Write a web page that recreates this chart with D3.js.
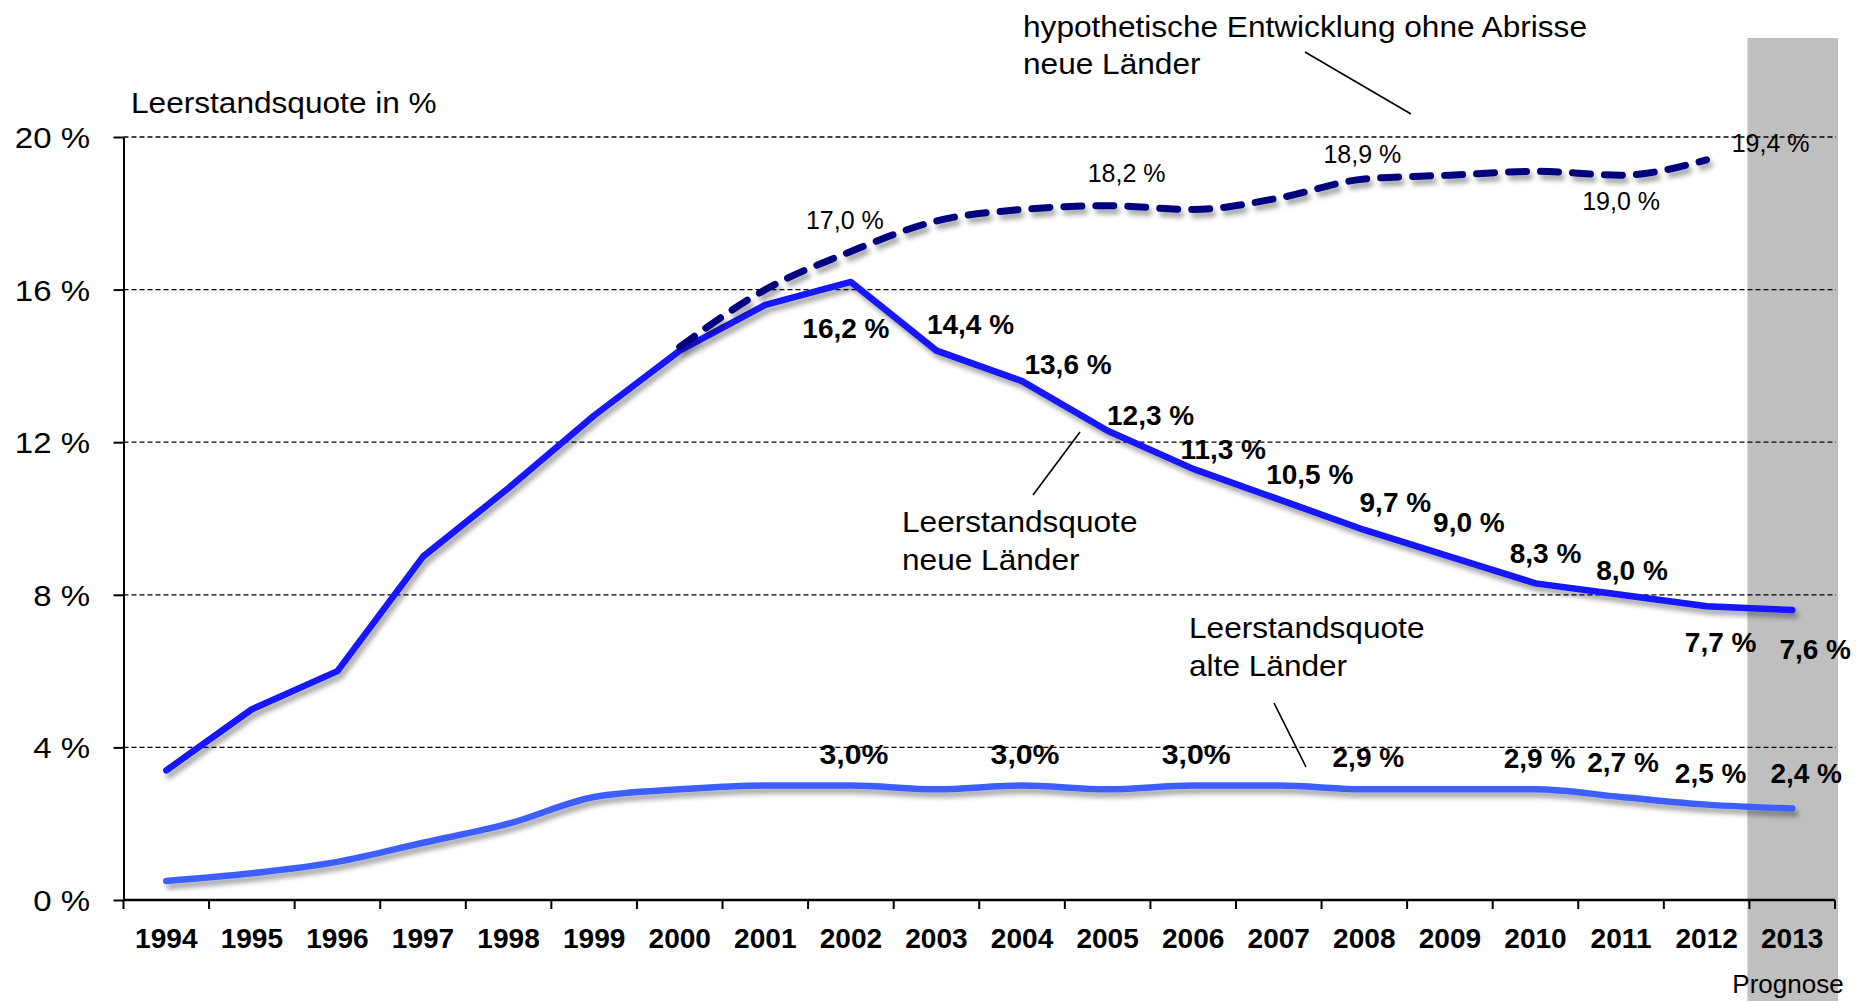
<!DOCTYPE html>
<html>
<head>
<meta charset="utf-8">
<script src="https://cdn.jsdelivr.net/npm/d3@7"></script>
<style>
  html, body { margin: 0; padding: 0; background: #fff; }
  svg { display: block; }
  text { font-family: "Liberation Sans", Arial, Helvetica, sans-serif; fill: #000; }
</style>
</head>
<body>
<script>
// ---- data ----
const years = [1994, 1995, 1996, 1997, 1998, 1999, 2000, 2001, 2002, 2003,
               2004, 2005, 2006, 2007, 2008, 2009, 2010, 2011, 2012, 2013];

// Leerstandsquote neue Länder (%)
const neueLaender = [3.4, 5.0, 6.0, 9.0, 10.8, 12.7, 14.4, 15.6, 16.2, 14.4,
                     13.6, 12.3, 11.3, 10.5, 9.7, 9.0, 8.3, 8.0, 7.7, 7.6];

// Leerstandsquote alte Länder (%)
const alteLaender = [0.5, 0.7, 1.0, 1.5, 2.0, 2.7, 2.9, 3.0, 3.0, 2.9,
                     3.0, 2.9, 3.0, 3.0, 2.9, 2.9, 2.9, 2.7, 2.5, 2.4];

// hypothetische Entwicklung ohne Abrisse, neue Länder (%)
const ohneAbrisseYears = [2000, 2001, 2002, 2003, 2004, 2005, 2006, 2007, 2008, 2009, 2010, 2011, 2012];
const ohneAbrisse      = [14.5, 16.0, 17.0, 17.8, 18.1, 18.2, 18.1, 18.4, 18.9, 19.0, 19.1, 19.0, 19.4];

const yTickValues = [0, 4, 8, 12, 16, 20];
const prognoseYears = [2013];

// years whose values carry a printed label
const neueLabelYears = [2002, 2003, 2004, 2005, 2006, 2007, 2008, 2009, 2010, 2011, 2012, 2013];
const alteLabelYears = [2002, 2004, 2006, 2008, 2010, 2011, 2012, 2013];
const ohneLabelYears = [2002, 2005, 2008, 2011, 2012];

// ---- layout ----
const W = 1862, H = 1001;
const plotLeft = 123.5, plotRight = 1835, plotTop = 137, plotBottom = 900;

const svg = d3.select("body").append("svg").attr("width", W).attr("height", H);

const x = d3.scaleBand().domain(years).range([plotLeft, plotRight]).padding(0);
const y = d3.scaleLinear().domain([0, 20]).range([plotBottom, plotTop]);
const cx = yr => x(yr) + x.bandwidth() / 2;

const fmt = v => d3.format(".1f")(v).replace(".", ",");

// text helper: slightly widened glyphs
function txt(g, px, py, str, o) {
  return g.append("text")
    .attr("transform", `translate(${px},${py}) scale(${o.sx || 1},1)`)
    .attr("text-anchor", o.anchor || "start")
    .style("font-size", o.size + "px")
    .style("font-weight", o.weight || "normal")
    .text(str);
}

// drop shadow for the data lines
const defs = svg.append("defs");
const f = defs.append("filter").attr("id", "shadow")
  .attr("x", "-5%").attr("y", "-20%").attr("width", "110%").attr("height", "140%");
f.append("feDropShadow").attr("dx", 3).attr("dy", 5).attr("stdDeviation", 2.5)
  .attr("flood-color", "#000").attr("flood-opacity", 0.35);

// Prognose band
svg.selectAll("rect.prognose").data(prognoseYears).enter().append("rect")
  .attr("class", "prognose")
  .attr("x", d => x(d) - 2)
  .attr("y", 38)
  .attr("width", x.bandwidth() + 5)
  .attr("height", H - 38)
  .attr("fill", "#bfbfbf");

// dashed grid lines
svg.append("g").selectAll("line").data(yTickValues.filter(d => d > 0)).enter().append("line")
  .attr("x1", plotLeft).attr("x2", plotRight + 1)
  .attr("y1", d => y(d)).attr("y2", d => y(d))
  .attr("stroke", "#000").attr("stroke-width", 1.3).attr("stroke-dasharray", "5,3");

// y axis
const yAxis = svg.append("g").attr("transform", `translate(${plotLeft},0)`)
  .call(d3.axisLeft(y).tickValues(yTickValues).tickSize(10).tickSizeOuter(0).tickFormat(""));
yAxis.select(".domain").attr("stroke", "#000").attr("stroke-width", 2);
yAxis.selectAll(".tick line").attr("stroke", "#000").attr("stroke-width", 2);

yTickValues.forEach(v => {
  txt(svg, 90, y(v) + 11, v + " %", { size: 30, anchor: "end", sx: 1.1 });
});

// x axis: ticks at band edges, labels at band centres
svg.append("line").attr("x1", plotLeft).attr("x2", plotRight).attr("y1", plotBottom).attr("y2", plotBottom)
  .attr("stroke", "#000").attr("stroke-width", 2.5);
svg.append("g").selectAll("line").data(years.map(d => x(d)).concat([plotRight])).enter().append("line")
  .attr("x1", d => d).attr("x2", d => d).attr("y1", plotBottom).attr("y2", plotBottom + 9)
  .attr("stroke", "#000").attr("stroke-width", 2);
years.forEach(yr => {
  txt(svg, cx(yr), 948, String(yr), { size: 27, weight: "bold", anchor: "middle", sx: 1.04 });
});
txt(svg, 1788, 993, "Prognose", { size: 26, anchor: "middle" });

// ---- series ----
const lineLinear = d3.line().x(d => cx(d[0])).y(d => y(d[1])).curve(d3.curveLinear);
const lineSmooth = d3.line().x(d => cx(d[0])).y(d => y(d[1])).curve(d3.curveMonotoneX);

const neuePts = years.map((yr, i) => [yr, neueLaender[i]]);
const altePts = years.map((yr, i) => [yr, alteLaender[i]]);
const ohnePts = ohneAbrisseYears.map((yr, i) => [yr, ohneAbrisse[i]]);

svg.append("path").datum(altePts).attr("d", lineSmooth)
  .attr("fill", "none").attr("stroke", "#3c5fff").attr("stroke-width", 6.5)
  .attr("stroke-linecap", "round").attr("stroke-linejoin", "round")
  .attr("filter", "url(#shadow)");

svg.append("path").datum(neuePts).attr("d", lineLinear)
  .attr("fill", "none").attr("stroke", "#1212ff").attr("stroke-width", 6.5)
  .attr("stroke-linecap", "round").attr("stroke-linejoin", "round")
  .attr("filter", "url(#shadow)");

svg.append("path").datum(ohnePts).attr("d", lineSmooth)
  .attr("fill", "none").attr("stroke", "#00007f").attr("stroke-width", 7)
  .attr("stroke-dasharray", "18,14")
  .attr("stroke-linecap", "round").attr("stroke-linejoin", "round")
  .attr("filter", "url(#shadow)");

// ---- value labels ----
const neueOffsets = {
  2002: [-5, 56], 2003: [34, -17], 2004: [46, -7], 2005: [43, -6], 2006: [30, -10],
  2007: [31, -15], 2008: [31, -18], 2009: [19, -25], 2010: [10, -20], 2011: [11, -15],
  2012: [14, 46], 2013: [23, 49]
};
neueLabelYears.forEach(yr => {
  const v = neueLaender[years.indexOf(yr)];
  const o = neueOffsets[yr];
  txt(svg, cx(yr) + o[0], y(v) + o[1], fmt(v) + " %", { size: 28, weight: "bold", anchor: "middle" });
});

const alteOffsets = {
  2002: [3, -22], 2004: [3, -22], 2006: [3, -22], 2008: [4, -22],
  2010: [4, -21], 2011: [2, -25], 2012: [4, -22], 2013: [14, -25]
};
const alteTight = [2002, 2004, 2006];
alteLabelYears.forEach(yr => {
  const v = alteLaender[years.indexOf(yr)];
  const o = alteOffsets[yr];
  const s = fmt(v) + (alteTight.includes(yr) ? "%" : " %");
  txt(svg, cx(yr) + o[0], y(v) + o[1], s, { size: 28, weight: "bold", anchor: "middle", sx: alteTight.includes(yr) ? 1.08 : 1 });
});

const ohneOffsets = {
  2002: [-6, -22], 2005: [19, -24], 2008: [-2, -16], 2011: [0, 35], 2012: [64, -8]
};
ohneLabelYears.forEach(yr => {
  const v = ohneAbrisse[ohneAbrisseYears.indexOf(yr)];
  const o = ohneOffsets[yr];
  txt(svg, cx(yr) + o[0], y(v) + o[1], fmt(v) + " %", { size: 25, anchor: "middle" });
});

// ---- annotations ----
const ann = { size: 29, sx: 1.09 };
txt(svg, 131, 113, "Leerstandsquote in %", ann);

txt(svg, 1023, 37, "hypothetische Entwicklung ohne Abrisse", ann);
txt(svg, 1023, 74, "neue Länder", ann);

txt(svg, 902, 532, "Leerstandsquote", ann);
txt(svg, 902, 570, "neue Länder", ann);

txt(svg, 1189, 638, "Leerstandsquote", ann);
txt(svg, 1189, 676, "alte Länder", ann);

const leaders = [
  [1305, 52, 1411, 114],
  [1080, 432, 1033, 495],
  [1274, 703, 1306, 767]
];
svg.append("g").selectAll("line").data(leaders).enter().append("line")
  .attr("x1", d => d[0]).attr("y1", d => d[1]).attr("x2", d => d[2]).attr("y2", d => d[3])
  .attr("stroke", "#000").attr("stroke-width", 1.6);
</script>
</body>
</html>
